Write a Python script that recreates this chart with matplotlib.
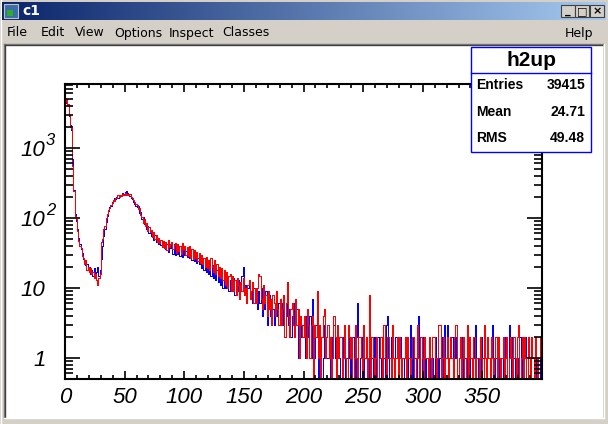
import numpy as np
import matplotlib
matplotlib.use('Agg')
import matplotlib.pyplot as plt
from matplotlib.patches import Rectangle
from matplotlib.lines import Line2D
from matplotlib.ticker import MultipleLocator, LogLocator, NullFormatter, FixedLocator
import matplotlib.transforms as mtransforms

# ---------------- data ----------------
bin_width = 1
x_min, x_max = 0, 400
red_counts = [
    4500, 5000, 4300, 3000, 2000, 1900, 560, 245, 105, 98, 66, 47, 40, 37, 29, 27, 22, 25, 18, 20,
    17, 19, 16, 17, 14, 16, 13, 11, 14, 16, 45, 50, 70, 78, 100, 115, 130, 140, 155, 165,
    180, 175, 195, 190, 210, 200, 215, 205, 220, 212, 225, 215, 218, 210, 222, 200, 195, 180, 170, 160,
    155, 135, 138, 112, 104, 86, 98, 78, 84, 66, 74, 62, 68, 54, 63, 50, 57, 46, 52, 44,
    49, 39, 47, 37, 46, 35, 49, 38, 42, 45, 36, 41, 44, 32, 42, 34, 40, 31, 44, 36,
    40, 30, 38, 29, 40, 27, 36, 26, 35, 27, 33, 24, 32, 23, 30, 22, 27, 20, 28, 19,
    25, 18, 27, 20, 17, 25, 16, 22, 15, 20, 14, 19, 13, 18, 11, 17, 10, 15, 16, 9,
    15, 9, 13, 8, 14, 11, 7, 12, 9, 14, 8, 10, 6, 11, 13, 7, 9, 12, 6, 10,
    6, 10, 16, 15, 7, 5, 11, 6, 8, 4, 9, 5, 7, 3, 8, 6, 4, 9, 5, 3,
    7, 3, 5, 8, 2, 6, 12, 4, 2, 5, 6, 3, 2, 7, 3, 5, 1, 4, 3, 2,
    4, 2, 1, 5, 3, 1, 3, 4, 0, 3, 2, 9, 1, 3, 0, 2, 4, 5, 1, 2,
    3, 1, 2, 0, 1, 4, 2, 0, 3, 1, 2, 2, 0, 1, 3, 1, 0, 3, 2, 1,
    2, 0, 1, 3, 1, 0, 2, 2, 1, 0, 3, 1, 2, 0, 1, 8, 0, 2, 1, 0,
    1, 2, 0, 1, 2, 2, 0, 3, 1, 0, 2, 2, 1, 0, 3, 1, 0, 1, 2, 0,
    2, 1, 0, 1, 1, 2, 0, 2, 1, 0, 1, 2, 2, 0, 1, 3, 1, 0, 2, 1,
    0, 2, 1, 1, 0, 2, 1, 0, 2, 2, 1, 0, 1, 3, 3, 0, 1, 2, 0, 1,
    2, 0, 1, 2, 1, 0, 2, 3, 3, 0, 1, 2, 0, 1, 2, 0, 1, 3, 0, 2,
    1, 0, 2, 2, 0, 1, 1, 0, 2, 1, 0, 3, 1, 0, 2, 1, 0, 2, 1, 0,
    1, 2, 0, 2, 1, 0, 1, 2, 0, 1, 2, 0, 1, 2, 1, 0, 2, 1, 0, 2,
    3, 0, 1, 2, 0, 2, 1, 0, 2, 1, 0, 2, 1, 0, 2, 1, 0, 1, 2, 0]
blue_counts = [
    4400, 4800, 4100, 2900, 2100, 1800, 700, 250, 115, 90, 70, 52, 42, 36, 32, 26, 24, 21, 22, 18,
    20, 16, 18, 15, 19, 14, 17, 20, 15, 18, 26, 40, 55, 70, 88, 105, 125, 145, 150, 170,
    175, 190, 185, 200, 195, 210, 205, 215, 225, 220, 232, 240, 225, 215, 205, 190, 185, 170, 160, 150,
    142, 148, 118, 120, 98, 102, 82, 86, 70, 76, 60, 66, 56, 60, 48, 58, 46, 52, 42, 49,
    41, 44, 38, 45, 36, 42, 33, 43, 37, 41, 31, 42, 30, 39, 31, 38, 29, 37, 28, 36,
    30, 34, 28, 33, 27, 33, 25, 31, 24, 29, 23, 27, 22, 26, 19, 25, 18, 23, 17, 22,
    16, 21, 15, 21, 14, 19, 13, 18, 12, 17, 11, 16, 10, 15, 10, 14, 11, 9, 13, 10,
    11, 14, 8, 12, 9, 13, 7, 10, 15, 20, 8, 11, 6, 10, 12, 7, 9, 6, 10, 8,
    8, 5, 9, 6, 10, 4, 7, 5, 9, 3, 6, 8, 4, 7, 5, 3, 6, 9, 4, 6,
    4, 6, 3, 5, 2, 6, 4, 3, 5, 2, 4, 6, 2, 3, 5, 1, 3, 4, 2, 3,
    3, 1, 4, 3, 2, 4, 1, 7, 2, 1, 3, 2, 0, 2, 0, 0, 1, 3, 2, 1,
    1, 2, 0, 2, 1, 3, 1, 0, 2, 1, 1, 0, 2, 1, 3, 0, 1, 2, 1, 0,
    1, 2, 1, 0, 2, 6, 0, 1, 2, 1, 0, 1, 2, 1, 0, 2, 1, 1, 0, 2,
    1, 0, 2, 1, 1, 0, 2, 1, 0, 3, 4, 1, 0, 2, 1, 1, 0, 2, 1, 0,
    1, 2, 1, 0, 1, 1, 2, 0, 1, 3, 1, 0, 2, 1, 0, 1, 4, 1, 0, 1,
    2, 1, 0, 1, 1, 2, 0, 1, 1, 0, 2, 1, 1, 0, 1, 2, 1, 0, 3, 1,
    3, 0, 1, 1, 2, 0, 1, 2, 1, 0, 1, 1, 2, 0, 1, 1, 0, 2, 1, 1,
    0, 1, 2, 1, 3, 0, 1, 1, 0, 2, 1, 1, 1, 1, 1, 1, 0, 1, 3, 1,
    0, 1, 1, 2, 0, 1, 1, 0, 2, 1, 1, 0, 3, 1, 0, 2, 1, 0, 1, 1,
    0, 2, 1, 0, 1, 1, 2, 0, 1, 1, 0, 2, 1, 1, 0, 1, 1, 0, 2, 0]
assert len(red_counts) == 400 and len(blue_counts) == 400, (len(red_counts), len(blue_counts))
x_tick_values = [0, 50, 100, 150, 200, 250, 300, 350]
x_tick_labels = ['0', '50', '100', '150', '200', '250', '300', '350']
y_tick_values = [1, 10, 100, 1000]
y_tick_bases = ['1', '10', '10', '10']
y_tick_exponents = ['', '', '2', '3']
stats_title = 'h2up'
stats_names = ['Entries', 'Mean', 'RMS']
stats_values = ['39415', '24.71', '49.48']
menu_items = ['File', 'Edit', 'View', 'Options', 'Inspect', 'Classes']
menu_x = [7, 41, 75, 114, 169, 222]
window_title = 'c1'

# ---------------- figure / window chrome ----------------
W, H = 608, 424
fig = plt.figure(figsize=(W / 100, H / 100), dpi=100, facecolor='#d4d0c8')

def fx(x):
    return x / W

def fy(y):
    return 1 - y / H

def rect(x0, y0, x1, y1, **kw):
    r = Rectangle((fx(x0), fy(y1)), (x1 - x0) / W, (y1 - y0) / H,
                  transform=fig.transFigure, **kw)
    fig.patches.append(r)
    return r

def hline(x0, x1, y, color, lw=1, z=-5):
    fig.lines.append(Line2D([fx(x0), fx(x1)], [fy(y), fy(y)], color=color, lw=lw,
                            transform=fig.transFigure, zorder=z))

def vline(x, y0, y1, color, lw=1, z=-5):
    fig.lines.append(Line2D([fx(x), fx(x)], [fy(y0), fy(y1)], color=color, lw=lw,
                            transform=fig.transFigure, zorder=z))

# title bar gradient
tax = fig.add_axes([fx(2), fy(20), fx(604), 18 / H])
grad = np.linspace(0, 1, 300)
c0 = np.array([10, 36, 106]) / 255
c1 = np.array([166, 202, 240]) / 255
img = (c0[None, :] * (1 - grad[:, None]) + c1[None, :] * grad[:, None])[None, :, :]
tax.imshow(img, aspect='auto', extent=[0, 1, 0, 1])
tax.set_axis_off()
fig.text(fx(22), fy(11), window_title, color='white', fontsize=10, fontweight='bold',
         family='DejaVu Sans', va='center', ha='left')
# icon
rect(4, 4, 18, 18, facecolor='#3a6ea5', edgecolor='#c0c0c0', lw=0.8, zorder=3)
rect(7, 10, 13, 16, facecolor='#2faa2f', edgecolor='none', zorder=4)
# window buttons
for bx, sym in zip([561, 575, 590], ['_', '□', '×']):
    rect(bx, 5, bx + 14, 17, facecolor='#d4d0c8', edgecolor='#404040', lw=0.8, zorder=3)
    fig.text(fx(bx + 7), fy(11.5), sym, fontsize=8, fontweight='bold', ha='center',
             va='center', color='black', family='DejaVu Sans', zorder=4)

# menu bar
for name, mx in zip(menu_items, menu_x):
    fig.text(fx(mx), fy(33), name, fontsize=9, family='DejaVu Sans', ha='left',
             va='center', color='black')
fig.text(fx(565), fy(33), 'Help', fontsize=9, family='DejaVu Sans', ha='left',
         va='center', color='black')

# canvas area
rect(5, 45, 603, 418, facecolor='white', edgecolor='none', zorder=-10)
hline(4, 603, 44, '#808080')
vline(4, 44, 418, '#808080')
hline(5, 602, 45, '#404040')
vline(5, 45, 417, '#404040')
hline(4, 604, 418, '#ffffff')
vline(604, 44, 418, '#ffffff')
vline(0.5, 0, 424, '#ffffff')

# ---------------- histogram ----------------
ax = fig.add_axes([fx(65), fy(379), (542 - 65) / W, (379 - 84) / H])
ax.set_facecolor('white')
edges = np.arange(x_min, x_max + bin_width, bin_width)
blue_draw = np.where(np.array(blue_counts) > 0, blue_counts, 1e-3)
red_draw = np.where(np.array(red_counts) > 0, red_counts, 1e-3)
sb = ax.stairs(blue_draw, edges, color='#0000ff', lw=0.6, baseline=None)
sr = ax.stairs(red_draw, edges, color='#ff0000', lw=0.6, baseline=None)
sb.set_antialiased(False)
sr.set_antialiased(False)
ax.set_yscale('log')
ax.set_xlim(x_min, x_max)
ax.set_ylim(0.5, 8200)

for s in ax.spines.values():
    s.set_linewidth(1.5)
    s.set_color('black')

ax.xaxis.set_major_locator(FixedLocator(x_tick_values))
ax.set_xticklabels(x_tick_labels)
ax.xaxis.set_minor_locator(MultipleLocator(10))
ax.yaxis.set_major_locator(FixedLocator(y_tick_values))
ax.set_yticklabels(y_tick_bases)
ax.yaxis.set_minor_locator(LogLocator(base=10, subs=np.arange(2, 10)))
ax.yaxis.set_minor_formatter(NullFormatter())

ax.tick_params(axis='both', which='both', direction='in', top=True, right=True,
               color='black', width=1.2)
ax.tick_params(axis='x', which='major', length=6, pad=6, labelsize=16)
ax.tick_params(axis='x', which='minor', length=3)
ax.tick_params(axis='y', which='major', length=11, pad=14, labelsize=16)
ax.tick_params(axis='y', which='minor', length=5.5)
for lab in ax.get_xticklabels() + ax.get_yticklabels():
    lab.set_family('Liberation Sans')
    lab.set_style('italic')

# superscript exponents for 10^2, 10^3
sup_trans = mtransforms.offset_copy(ax.get_yaxis_transform(), fig=fig, x=0, y=3, units='dots')
for val, ex in zip(y_tick_values, y_tick_exponents):
    if ex:
        ax.text((46 - 65) / 477, val, ex, transform=sup_trans, fontsize=12,
                family='Liberation Sans', style='italic', ha='left', va='baseline',
                clip_on=False)

# ---------------- stats box ----------------
rect(471, 47, 591, 152, facecolor='white', edgecolor='#0000ff', lw=1.0, zorder=5)
fig.lines.append(Line2D([fx(471), fx(591)], [fy(73), fy(73)], color='#0000ff', lw=1.0,
                        transform=fig.transFigure, zorder=6))
fig.text(fx(531), fy(60), stats_title, fontsize=15, fontweight='bold',
         family='Liberation Sans', ha='center', va='center', zorder=7)
for i, (nm, val) in enumerate(zip(stats_names, stats_values)):
    yy = 85 + i * 26.5
    fig.text(fx(476), fy(yy), nm, fontsize=10, fontweight='bold', family='Liberation Sans',
             ha='left', va='center', zorder=7)
    fig.text(fx(585), fy(yy), val, fontsize=10, fontweight='bold', family='Liberation Sans',
             ha='right', va='center', zorder=7)

fig.savefig('out.png', dpi=100, facecolor=fig.get_facecolor())
